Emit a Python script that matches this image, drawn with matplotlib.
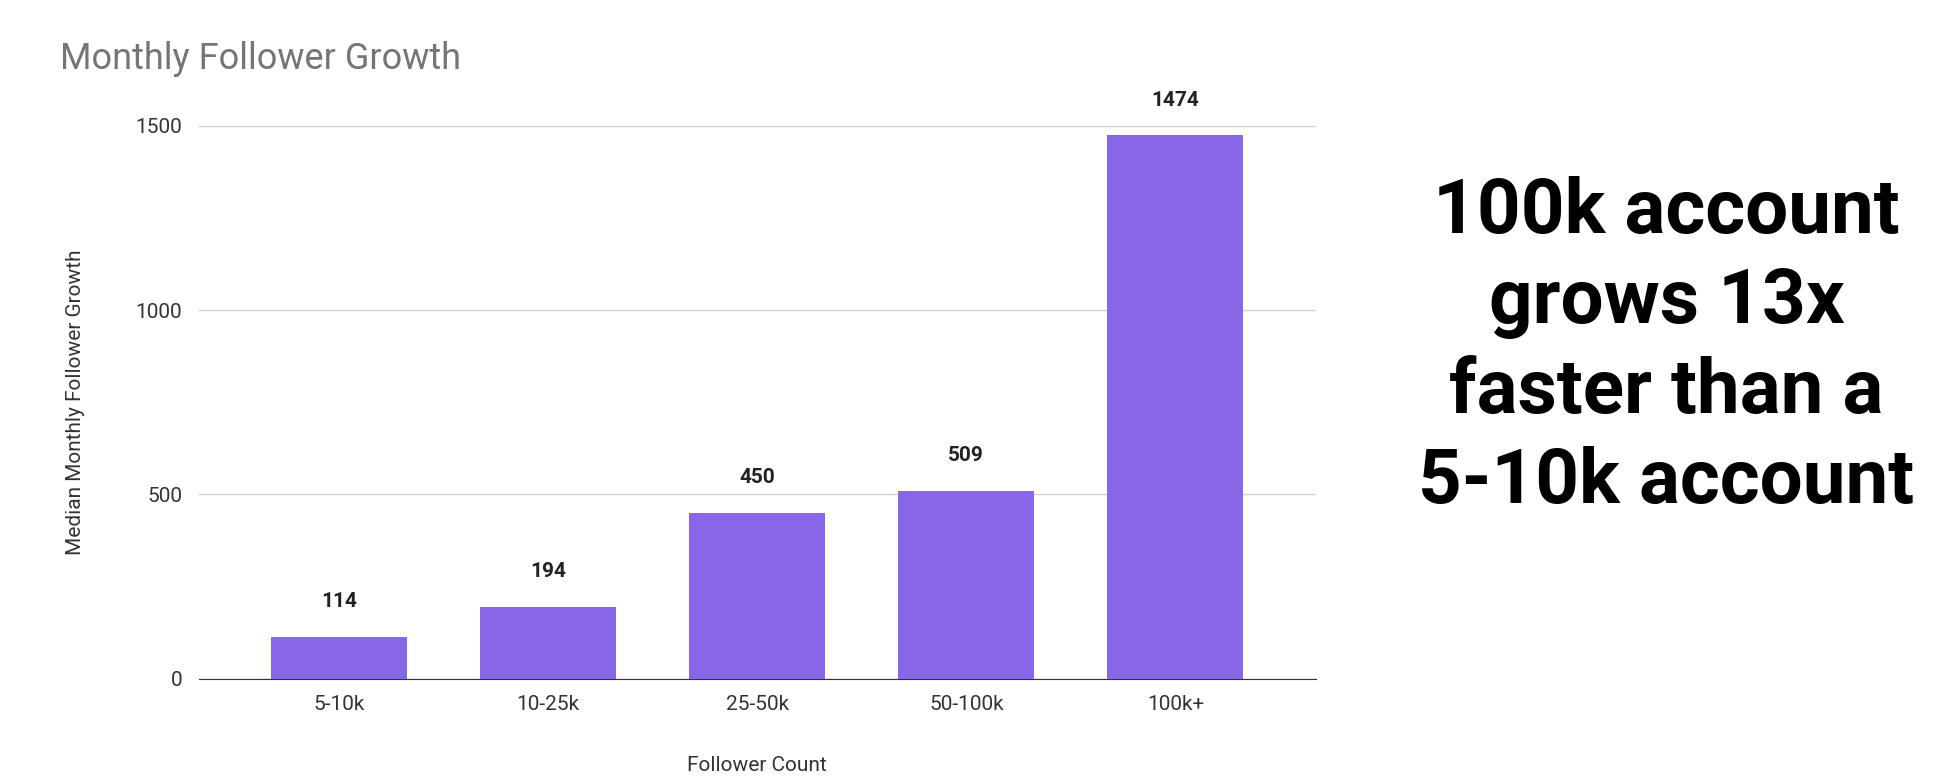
import matplotlib
matplotlib.use("Agg")
import matplotlib.pyplot as plt

categories = ["5-10k", "10-25k", "25-50k", "50-100k", "100k+"]
values = [114, 194, 450, 509, 1474]
yticks = [0, 500, 1000, 1500]

plt.rcParams['font.family'] = ['Roboto', 'DejaVu Sans']
fig = plt.figure(figsize=(19.49, 7.81), dpi=100)
ax = fig.add_axes([0.102, 0.131, 0.573, 0.708])
bars = ax.bar(categories, values, width=0.65, color="#8966e8", zorder=3)
for b, v in zip(bars, values):
    ax.text(b.get_x() + b.get_width()/2, v + 70, str(v), ha="center", va="bottom",
            fontsize=15, fontweight="bold", color="#222222", clip_on=False)
ax.set_ylim(0, 1500)
ax.set_yticks(yticks)
ax.set_xlim(-0.67, 4.67)
ax.grid(axis="y", color="#d0d0d0", linewidth=1, zorder=0)
for s in ["top", "right", "left"]:
    ax.spines[s].set_visible(False)
ax.spines["bottom"].set_color("#333333")
ax.tick_params(axis="both", length=0, labelsize=15, colors="#333333", pad=12)
ax.set_xlabel("Follower Count", fontsize=15, color="#333333", labelpad=30)
ax.set_ylabel("Median Monthly Follower Growth", fontsize=15, color="#333333", labelpad=36)
fig.text(0.031, 0.925, "Monthly Follower Growth", fontsize=26, color="#757575", va="center")
fig.text(0.855, 0.555, "100k account\ngrows 13x\nfaster than a\n5-10k account",
         ha="center", va="center", fontsize=55, fontweight="bold", color="black",
         linespacing=1.3)
fig.savefig("out.png", dpi=100)
